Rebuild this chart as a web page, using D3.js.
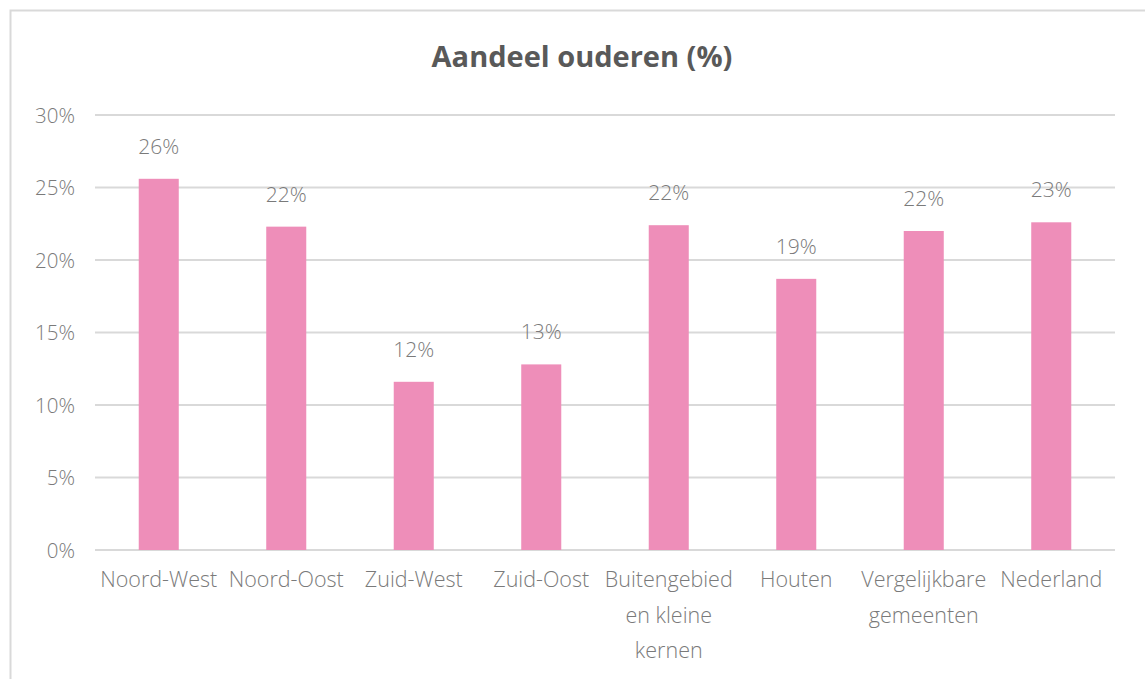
<!DOCTYPE html>
<html>
<head>
<meta charset="utf-8">
<script src="https://cdn.jsdelivr.net/npm/d3@7"></script>
<style>
  body { margin: 0; background: #fff; }
  .tick-label, .cat-label, .val-label { font-family: "Open Sans", sans-serif; font-weight: 300; fill: #7a7a7a; }
  .title { font-family: "Open Sans", sans-serif; font-weight: 700; fill: #595959; }
</style>
</head>
<body>
<div id="graphic"></div>
<script>
(function(d3){

    // Chart data
    let categories = ['Noord-West', 'Noord-Oost', 'Zuid-West', 'Zuid-Oost',
                      'Buitengebied en kleine kernen', 'Houten', 'Vergelijkbare gemeenten', 'Nederland'];
    let values = [25.6, 22.3, 11.6, 12.8, 22.4, 18.7, 22.0, 22.6];
    let valueLabels = ['26%', '22%', '12%', '13%', '22%', '19%', '22%', '23%'];
    let ticks = [0, 5, 10, 15, 20, 25, 30];

    // Label lines per category (wrapped as in the source)
    let catLines = [['Noord-West'], ['Noord-Oost'], ['Zuid-West'], ['Zuid-Oost'],
                    ['Buitengebied', 'en kleine', 'kernen'], ['Houten'],
                    ['Vergelijkbare', 'gemeenten'], ['Nederland']];

    let width = 1145, height = 679;
    let left = 95, right = 1115, top = 115, bottom = 550;

    let svg = d3.select('#graphic')
                .append('svg')
                .attr('width', width)
                .attr('height', height);

    // Chart area border
    svg.append('rect')
       .attr('x', 10.5).attr('y', 10.5)
       .attr('width', width + 20).attr('height', height + 20)
       .attr('fill', 'none')
       .attr('stroke', '#d9d9d9')
       .attr('stroke-width', 2);

    svg.append('text')
       .attr('class', 'title')
       .attr('x', 582).attr('y', 67)
       .attr('text-anchor', 'middle')
       .style('font-size', '29px')
       .text('Aandeel ouderen (%)');

    let x = d3.scaleBand()
        .domain(categories)
        .range([left, right])
        .paddingInner(0.686)
        .paddingOuter(0.343);

    let y = d3.scaleLinear()
        .domain([0, 30])
        .range([bottom, top]);

    // Gridlines
    svg.append('g')
       .selectAll('line')
       .data(ticks)
       .join('line')
       .attr('x1', left).attr('x2', right)
       .attr('y1', d => y(d)).attr('y2', d => y(d))
       .attr('stroke', '#d9d9d9')
       .attr('stroke-width', 2);

    // Y tick labels
    svg.append('g')
       .selectAll('text')
       .data(ticks)
       .join('text')
       .attr('class', 'tick-label')
       .attr('x', 75)
       .attr('y', d => y(d) + 7.5)
       .attr('text-anchor', 'end')
       .style('font-size', '20.5px')
       .text(d => d + '%');

    // Bars
    svg.append('g')
       .selectAll('rect')
       .data(values)
       .join('rect')
       .attr('x', (d, i) => x(categories[i]))
       .attr('width', x.bandwidth())
       .attr('y', d => y(d))
       .attr('height', d => y(0) - y(d))
       .attr('fill', '#ee8eb9');

    // Value labels
    svg.append('g')
       .selectAll('text')
       .data(values)
       .join('text')
       .attr('class', 'val-label')
       .attr('x', (d, i) => x(categories[i]) + x.bandwidth() / 2)
       .attr('y', d => y(d) - 25)
       .attr('text-anchor', 'middle')
       .style('font-size', '21px')
       .text((d, i) => valueLabels[i]);

    // Category labels
    let catG = svg.append('g')
       .selectAll('text')
       .data(categories)
       .join('text')
       .attr('class', 'cat-label')
       .attr('text-anchor', 'middle')
       .style('font-size', '21.5px');

    catG.each(function(c, i) {
        let cx = x(c) + x.bandwidth() / 2;
        d3.select(this).selectAll('tspan')
          .data(catLines[i])
          .join('tspan')
          .attr('x', cx)
          .attr('y', (l, j) => 587 + j * 35.5)
          .text(l => l);
    });

})(window.d3);
</script>
</body>
</html>
